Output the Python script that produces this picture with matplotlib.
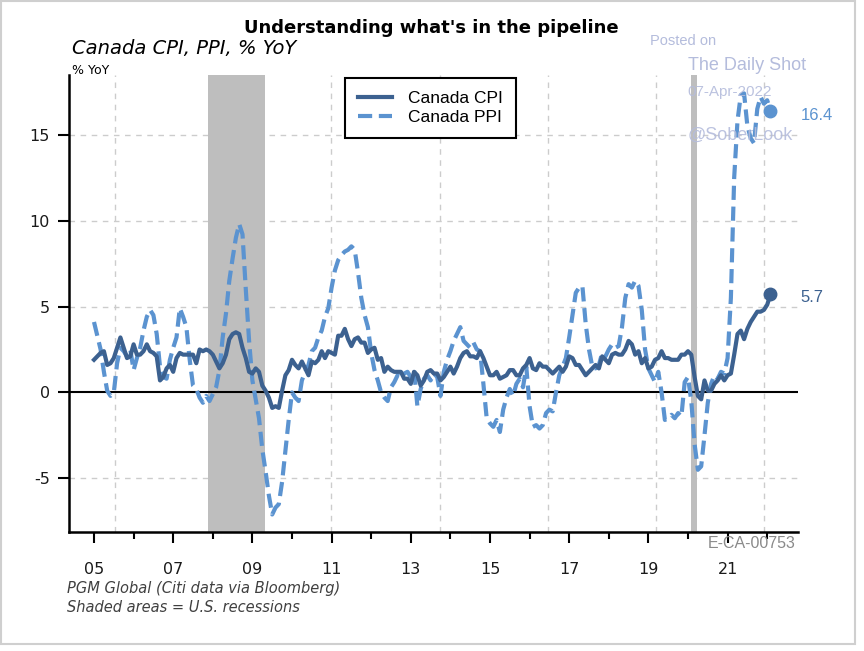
import numpy as np
import matplotlib
matplotlib.use("Agg")
import matplotlib.pyplot as plt
from matplotlib.patches import Rectangle

plt.rcParams['font.family'] = ['DejaVu Sans']
LIB = ['Liberation Sans', 'DejaVu Sans']

# monthly % YoY, Jan 2005 .. Feb 2022
cpi = [
    1.9, 2.1, 2.3, 2.4, 1.6, 1.7, 2.0, 2.6, 3.2, 2.6, 2.0, 2.1,   # 2005
    2.8, 2.2, 2.2, 2.4, 2.8, 2.4, 2.3, 2.1, 0.7, 0.9, 1.4, 1.6,   # 2006
    1.2, 2.0, 2.3, 2.2, 2.2, 2.2, 2.2, 1.7, 2.5, 2.4, 2.5, 2.4,   # 2007
    2.2, 1.8, 1.4, 1.7, 2.2, 3.1, 3.4, 3.5, 3.4, 2.6, 2.0, 1.2,   # 2008
    1.1, 1.4, 1.2, 0.4, 0.1, -0.3, -0.9, -0.8, -0.9, 0.1, 1.0, 1.3,  # 2009
    1.9, 1.6, 1.4, 1.8, 1.4, 1.0, 1.8, 1.7, 1.9, 2.4, 2.0, 2.4,   # 2010
    2.3, 2.2, 3.3, 3.3, 3.7, 3.1, 2.7, 3.1, 3.2, 2.9, 2.9, 2.3,   # 2011
    2.5, 2.6, 1.9, 2.0, 1.2, 1.5, 1.3, 1.2, 1.2, 1.2, 0.8, 0.8,   # 2012
    0.5, 1.2, 1.0, 0.4, 0.7, 1.2, 1.3, 1.1, 1.1, 0.7, 0.9, 1.2,   # 2013
    1.5, 1.1, 1.5, 2.0, 2.3, 2.4, 2.1, 2.1, 2.0, 2.4, 2.0, 1.5,   # 2014
    1.0, 1.0, 1.2, 0.8, 0.9, 1.0, 1.3, 1.3, 1.0, 1.0, 1.4, 1.6,   # 2015
    2.0, 1.4, 1.3, 1.7, 1.5, 1.5, 1.3, 1.1, 1.3, 1.5, 1.2, 1.5,   # 2016
    2.1, 2.0, 1.6, 1.6, 1.3, 1.0, 1.2, 1.4, 1.6, 1.4, 2.1, 1.9,   # 2017
    1.7, 2.2, 2.3, 2.2, 2.2, 2.5, 3.0, 2.8, 2.2, 2.4, 1.7, 2.0,   # 2018
    1.4, 1.5, 1.9, 2.0, 2.4, 2.0, 2.0, 1.9, 1.9, 1.9, 2.2, 2.2,   # 2019
    2.4, 2.2, 0.9, -0.2, -0.4, 0.7, 0.1, 0.1, 0.5, 0.7, 1.0, 0.7,  # 2020
    1.0, 1.1, 2.2, 3.4, 3.6, 3.1, 3.7, 4.1, 4.4, 4.7, 4.7, 4.8,   # 2021
    5.1, 5.7,                                                    # 2022
]
ppi = [
    4.1, 3.3, 2.5, 1.2, 0.1, -0.2, 0.0, 1.7, 2.6, 2.4, 2.1, 2.5,
    1.3, 2.0, 2.6, 3.6, 4.4, 4.8, 4.5, 3.4, 1.5, 0.9, 0.8, 1.9,
    2.6, 3.2, 4.9, 4.4, 3.8, 1.9, 0.4, 0.2, -0.3, -0.6, -0.2, -0.5,
    -0.1, 0.3, 1.3, 3.2, 4.6, 6.5, 7.8, 9.0, 9.8, 9.2, 6.0, 3.0,
    0.7, -0.4, -1.5, -3.3, -4.6, -6.0, -7.1, -6.7, -6.5, -5.2, -3.4, -1.6,
    0.0, -0.3, -0.5, 0.7, 1.2, 1.6, 2.4, 2.6, 3.2, 3.6, 4.4, 4.9,
    6.1, 7.1, 7.7, 8.0, 8.2, 8.3, 8.5, 8.3, 7.0, 5.5, 4.5, 3.8,
    2.3, 1.3, 0.7, 0.0, -0.3, -0.5, 0.3, 0.6, 1.0, 0.8, 1.1, 1.2,
    0.9, 1.3, -0.8, 0.2, 0.8, 1.0, 0.7, 1.1, 0.9, -0.2, 1.2, 1.9,
    2.4, 3.0, 3.4, 3.8, 3.0, 2.8, 2.6, 2.9, 2.5, 2.4, 0.5, -1.5,
    -1.8, -2.0, -1.6, -2.3, -1.0, -0.3, 0.2, -0.2, 0.5, 0.8, 0.3, 1.5,
    -0.8, -2.0, -1.9, -2.1, -1.9, -1.2, -1.0, -1.1, 0.0, 1.0, 1.5, 2.0,
    3.2, 4.5, 5.8, 6.1, 6.2, 4.0, 2.5, 1.5, 1.4, 1.6, 2.3, 2.1,
    2.5, 2.8, 2.6, 2.7, 3.8, 5.5, 6.3, 6.1, 6.5, 6.2, 4.8, 2.5,
    1.4, 1.0, 0.6, 1.2, 0.0, -1.6, -1.5, -1.3, -1.5, -1.2, -1.4, 0.6,
    0.9, -0.5, -3.0, -4.5, -4.3, -2.5, -0.6, 0.5, 1.0, 0.8, 1.2, 1.1,
    2.0, 5.5, 12.5, 15.8, 17.3, 17.4, 15.5, 14.8, 14.5, 16.5, 17.2, 16.8,
    17.0, 16.4,
]
start_year = 2005
recessions = [(2007.89, 2009.32), (2020.08, 2020.24)]
major_years = list(range(2005, 2022, 2))
minor_years = list(range(2006, 2023, 2))
yticks = [-5, 0, 5, 10, 15]

cpi_col = '#3c6190'
ppi_col = '#5b93d0'
wm_col = '#b4bcdc'

x = start_year + np.arange(len(cpi)) / 12.0

fig = plt.figure(figsize=(8.64, 6.51), dpi=100)
ax = fig.add_axes([0.0802, 0.1833, 0.8434, 0.7015])

# grid
for yv in [-5, 5, 10, 15]:
    ax.axhline(yv, color='#cccccc', lw=1, ls=(0, (4, 4)), zorder=0)
for k in range(7):
    ax.axvline(2005.53 + 2.733 * k, color='#cccccc', lw=1, ls=(0, (4, 4)), zorder=0)

for a, b in recessions:
    ax.axvspan(a, b, color='#bebebe', lw=0, zorder=1)
ax.axhline(0, color='black', lw=1.5, zorder=2)

ax.plot(x, ppi, color=ppi_col, lw=3, ls=(0, (3.4, 1.6)), zorder=3, label='Canada PPI')
ax.plot(x, cpi, color=cpi_col, lw=3, zorder=4, label='Canada CPI')
ax.plot(x[-1], ppi[-1], 'o', color=ppi_col, ms=9, zorder=5)
ax.plot(x[-1], cpi[-1], 'o', color=cpi_col, ms=9, zorder=5)
ax.text(2022.85, ppi[-1] - 0.3, f'{ppi[-1]:.1f}', color=ppi_col, fontsize=12,
        family=LIB, ha='left', va='center', clip_on=False)
ax.text(2022.85, cpi[-1] - 0.2, f'{cpi[-1]:.1f}', color=cpi_col, fontsize=12,
        family=LIB, ha='left', va='center', clip_on=False)

ax.set_xlim(2004.376, 2022.778)
ax.set_ylim(-8.1, 18.47)
ax.set_xticks(major_years)
ax.set_xticklabels([f'{y % 100:02d}' for y in major_years])
ax.set_xticks(minor_years, minor=True)
ax.set_yticks(yticks)
ax.set_yticklabels([str(v) for v in yticks])

for s in ['top', 'right']:
    ax.spines[s].set_visible(False)
for s in ['left', 'bottom']:
    ax.spines[s].set_linewidth(1.8)
    ax.spines[s].set_color('black')
ax.tick_params(axis='x', which='major', direction='out', length=8, width=1.5,
               pad=14, labelsize=11.5, labelcolor='#1a1a1a')
ax.tick_params(axis='x', which='minor', direction='out', length=5, width=1.5)
ax.tick_params(axis='y', direction='out', length=8, width=1.5, pad=6,
               labelsize=11.5, labelcolor='#1a1a1a')

handles, labels = ax.get_legend_handles_labels()
leg = ax.legend(handles[::-1], labels[::-1], loc='upper left',
                bbox_to_anchor=(0.378, 0.994), borderaxespad=0,
                prop={'family': LIB, 'size': 12.5},
                handlelength=2.0, handletextpad=0.9, labelspacing=0.25,
                borderpad=0.75, fancybox=False, framealpha=1, edgecolor='black')
leg.get_frame().set_linewidth(1.5)

W, H = 864, 651
def fx(px):
    return px / W
def fy(py):
    return 1 - py / H

fig.text(fx(431), fy(28), "Understanding what's in the pipeline", fontsize=13,
         fontweight='bold', ha='center', va='center')
fig.text(fx(72), fy(48), 'Canada CPI, PPI, % YoY', fontsize=14, style='italic',
         ha='left', va='center')
fig.text(fx(72), fy(70), '% YoY', fontsize=9, ha='left', va='center')
fig.text(fx(796), fy(543), 'E-CA-00753', fontsize=11.5, color='#8a8a8a',
         family=LIB, ha='right', va='center')
fig.text(fx(67), fy(589), 'PGM Global (Citi data via Bloomberg)', fontsize=10.5,
         style='italic', color='#404040', ha='left', va='center')
fig.text(fx(67), fy(607), 'Shaded areas = U.S. recessions', fontsize=10.5,
         style='italic', color='#404040', ha='left', va='center')

# watermark
fig.text(fx(650), fy(41), 'Posted on', fontsize=10.5, color=wm_col, family=LIB,
         ha='left', va='center')
fig.text(fx(688), fy(65), 'The Daily Shot', fontsize=13, color=wm_col, family=LIB,
         ha='left', va='center')
fig.text(fx(687), fy(92), '07-Apr-2022', fontsize=11, color=wm_col, family=LIB,
         ha='left', va='center', alpha=0.9, zorder=10)
fig.text(fx(688), fy(135), '@SoberLook', fontsize=13, color=wm_col, family=LIB,
         ha='left', va='center', alpha=0.9, zorder=10)

fig.patches.append(Rectangle((1 / W, 1 - 644 / H), 854 / W, 643 / H,
                             transform=fig.transFigure, fill=False,
                             edgecolor='#cfcfcf', lw=1.5))

fig.savefig('out.png', dpi=100)
